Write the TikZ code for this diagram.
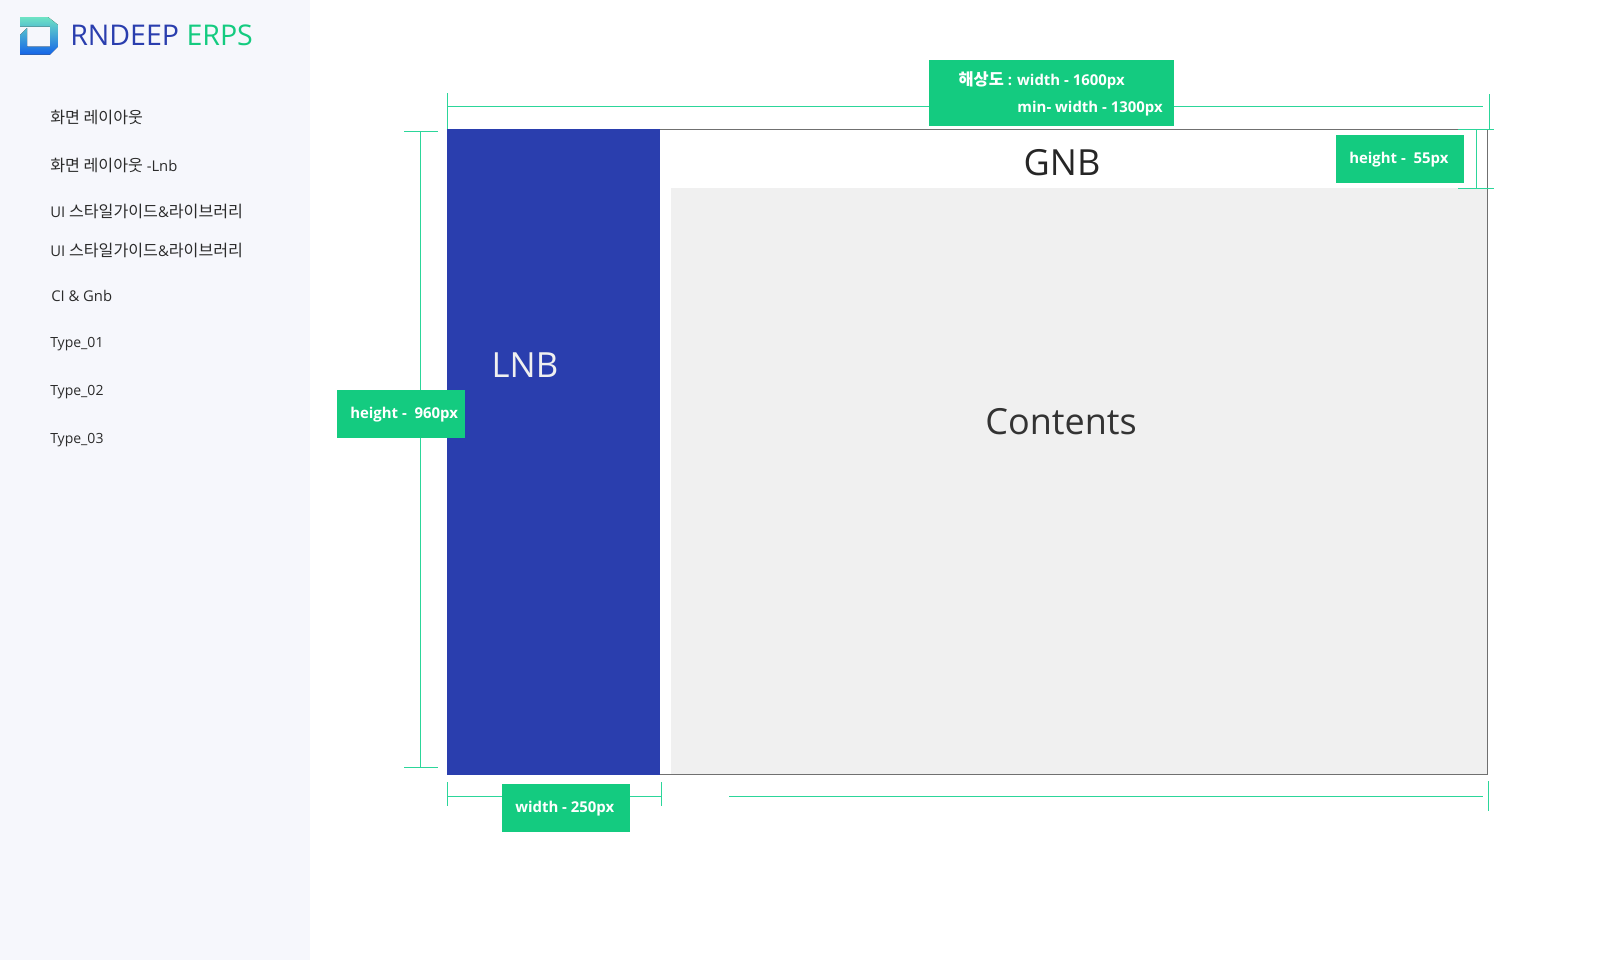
\documentclass[tikz,border=0pt]{standalone}
\usepackage{fontspec}
\setmainfont{Open Sans}
\newfontfamily\cjk{Noto Sans CJK KR}
\newcommand{\krmenu}[1]{{\fontsize{12.1}{13}\selectfont\cjk #1}}
\newcommand{\krtag}[1]{{\fontsize{12.3}{13}\selectfont\cjk\bfseries #1}}
\definecolor{sidebg}{HTML}{F6F7FC}
\definecolor{lnbblue}{HTML}{2A3EAE}
\definecolor{tagfill}{HTML}{14CB80}
\definecolor{dimgreen}{HTML}{2CD69A}
\definecolor{contbg}{HTML}{F0F0F0}
\definecolor{framegray}{HTML}{707070}
\definecolor{menutext}{HTML}{2B2B2B}
\definecolor{logotop}{HTML}{6EE3C4}
\definecolor{logobottom}{HTML}{1565E8}
\begin{document}
\begin{tikzpicture}[x=0.75pt, y=-0.75pt]
		\tikzset{tag/.style={fill=tagfill, inner sep=0, minimum width=96pt, minimum height=36pt}};
		\tikzset{tagtext/.style={text=white, inner sep=0, font=\fontsize{11.2}{13}\selectfont\bfseries}};
		\tikzset{menu/.style={anchor=west, inner sep=0, text=menutext, font=\fontsize{10.5}{13}\selectfont}};
		\tikzset{menulatin/.style={menu, font=\fontsize{11.1}{13}\selectfont}};
		\tikzset{dimline/.style={draw=dimgreen, line width=0.75pt}};

		\useasboundingbox (0, 0) rectangle (1600, 960);

		% left column
		\fill[sidebg] (0, 0) rectangle (310, 960);

		\fill[top color=logotop, bottom color=logobottom]
			(20, 17) -- (48, 17) -- (57.5, 24.5) -- (57.5, 47) -- (50, 54.5) -- (20, 54.5) -- (20, 35) -- (27, 28) -- (27, 46.5) -- (50, 46.5) -- (50, 26.5) -- (20, 26.5) -- cycle;
		\node[anchor=west, inner sep=0, font=\fontsize{21.4}{26}\selectfont] (title) at (70, 35) {\textcolor{lnbblue}{RNDEEP} \textcolor{tagfill}{ERPS}};

		\node[menulatin] (m1) at (50, 117) {\krmenu{화면 레이아웃}};
		\node[menulatin] (m2) at (50, 165) {\krmenu{화면 레이아웃} -Lnb};
		\node[menulatin] (m3) at (50, 211) {UI \krmenu{스타일가이드}\&\krmenu{라이브러리}};
		\node[menulatin] (m4) at (50, 250) {UI \krmenu{스타일가이드}\&\krmenu{라이브러리}};
		\node[menulatin] (m5) at (51, 296) {CI \& Gnb};
		\node[menu] (m6) at (50, 344) {Type\_01};
		\node[menu] (m7) at (50, 392) {Type\_02};
		\node[menu] (m8) at (50, 440) {Type\_03};

		% screen
		\draw[framegray, line width=0.75pt] (447, 129) rectangle (1487.5, 774.5);
		\fill[contbg] (671, 188) rectangle (1487, 774);
		\fill[lnbblue] (447, 129) rectangle (660, 775);

		\node[text=contbg, font=\fontsize{26}{30}\selectfont, inner sep=0] (lnb) at (525, 365) {LNB};
		\node[text=black!85, font=\fontsize{27}{30}\selectfont, inner sep=0] (gnb) at (1062, 163) {GNB};
		\node[text=black!80, font=\fontsize{27}{30}\selectfont, inner sep=0] (contents) at (1061, 422) {Contents};

		% width on top
		\coordinate (tl1) at (447, 93);
		\coordinate (tl2) at (447, 129);
		\coordinate (ta) at (447, 106.5);
		\coordinate (tb) at (1483, 106.5);
		\coordinate (tr1) at (1489, 94);
		\coordinate (tr2) at (1489, 130);
		\draw[dimline] (tl1) to (tl2);
		\draw[dimline] (ta) to (tb);
		\draw[dimline] (tr1) to (tr2);

		% height on the left
		\coordinate (la1) at (404, 131);
		\coordinate (la2) at (438, 131);
		\coordinate (lb1) at (404, 767);
		\coordinate (lb2) at (438, 767);
		\coordinate (lc1) at (420.5, 131);
		\coordinate (lc2) at (420.5, 767);
		\draw[dimline] (la1) to (la2);
		\draw[dimline] (lb1) to (lb2);
		\draw[dimline] (lc1) to (lc2);

		% height of the top bar
		\coordinate (ga1) at (1458, 129);
		\coordinate (ga2) at (1494, 129);
		\coordinate (gb1) at (1458, 188);
		\coordinate (gb2) at (1494, 188);
		\coordinate (gc1) at (1476.5, 129);
		\coordinate (gc2) at (1476.5, 188);
		\draw[dimline] (ga1) to (ga2);
		\draw[dimline] (gb1) to (gb2);
		\draw[dimline] (gc1) to (gc2);

		% widths below
		\coordinate (ba1) at (447, 782);
		\coordinate (ba2) at (447, 806);
		\coordinate (bb1) at (661.5, 782);
		\coordinate (bb2) at (661.5, 806);
		\coordinate (bc1) at (447, 796.5);
		\coordinate (bc2) at (661.5, 796.5);
		\coordinate (bd1) at (729, 796.5);
		\coordinate (bd2) at (1483, 796.5);
		\coordinate (be1) at (1488, 781);
		\coordinate (be2) at (1488, 811);
		\draw[dimline] (ba1) to (ba2);
		\draw[dimline] (bb1) to (bb2);
		\draw[dimline] (bc1) to (bc2);
		\draw[dimline] (bd1) to (bd2);
		\draw[dimline] (be1) to (be2);

		% tags
		\node[tag, minimum width=183.75pt, minimum height=49.5pt] (restag) at (1051.5, 93) {};
		\node[tagtext, anchor=east] (res1) at (1125, 80.5) {\krtag{해상도} : width - 1600px};
		\node[tagtext, anchor=east] (res2) at (1163, 108.5) {min- width - 1300px};

		\node[tag] (gnbtag) at (1400, 159) {};
		\node[tagtext, anchor=west] (gnbtext) at (1349, 159.5) {height - ~55px};

		\node[tag] (lnbtag) at (401, 414) {};
		\node[tagtext, anchor=west] (lnbtext) at (350, 414.5) {height - ~960px};

		\node[tag] (widthtag) at (566, 808) {};
		\node[tagtext, anchor=west] (widthtext) at (515, 808.5) {width - 250px};
	\end{tikzpicture}
\end{document}
